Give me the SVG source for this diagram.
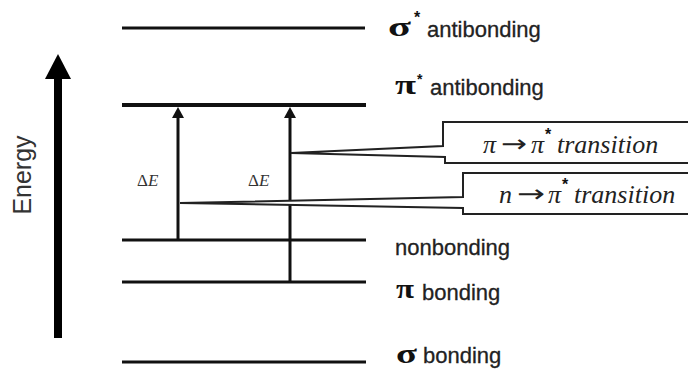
<svg xmlns="http://www.w3.org/2000/svg" width="688" height="369" viewBox="0 0 688 369">
<style>
.lvl{stroke:#111;stroke-width:3;fill:none}
.lbl{font-family:"Liberation Sans",Arial,sans-serif;font-size:22px;fill:#222;stroke:#222;stroke-width:0.3}
.sym{font-family:"Liberation Serif","Times New Roman",serif;font-size:28px;font-weight:bold;fill:#111}
.star{font-family:"Liberation Sans",Arial,sans-serif;font-size:16px;font-weight:bold;fill:#111}
.box{stroke:#222;stroke-width:2;fill:#fff}
.it{font-family:"Liberation Serif","Times New Roman",serif;font-style:italic;font-size:26px;fill:#222}
.arr{font-family:"DejaVu Sans",sans-serif;font-size:24px;fill:#222}
.de{font-family:"Liberation Serif","Times New Roman",serif;font-size:17px;fill:#333}
.tr{stroke:#111;stroke-width:3;fill:none}
</style>
<g id="energy-axis">
<rect x="54" y="74" width="8" height="264" fill="#000"/>
<polygon points="58,54 45,79 71,79" fill="#000"/>
<text transform="translate(31,175) rotate(-90)" text-anchor="middle" class="lbl" style="font-size:25px;stroke-width:0;fill:#333">Energy</text>
</g>
<g id="sigma-star">
<line class="lvl" x1="122" y1="28" x2="365" y2="28"/>
<text x="388" y="36" class="sym" textLength="23" lengthAdjust="spacingAndGlyphs">σ</text>
<text x="414" y="23" class="star">*</text>
<text x="427" y="37" class="lbl">antibonding</text>
</g>
<g id="pi-star">
<line class="lvl" x1="122" y1="105" x2="366" y2="105" style="stroke-width:4"/>
<text x="395" y="94" class="sym" textLength="21" lengthAdjust="spacingAndGlyphs">π</text>
<text x="417" y="84" class="star" style="font-size:14px">*</text>
<text x="430" y="95" class="lbl">antibonding</text>
</g>
<g id="nonbonding">
<line class="lvl" x1="122" y1="240" x2="366" y2="240"/>
<text x="395" y="255" class="lbl">nonbonding</text>
</g>
<g id="pi-bonding">
<line class="lvl" x1="122" y1="282" x2="366" y2="282"/>
<text x="396" y="298" class="sym" textLength="18" lengthAdjust="spacingAndGlyphs">π</text>
<text x="422" y="300" class="lbl">bonding</text>
</g>
<g id="sigma-bonding">
<line class="lvl" x1="122" y1="362" x2="366" y2="362"/>
<text x="396" y="363" class="sym" textLength="21" lengthAdjust="spacingAndGlyphs">σ</text>
<text x="423" y="363" class="lbl">bonding</text>
</g>
<g id="connectors">
<line class="tr" x1="178" y1="240" x2="178" y2="116"/>
<polygon points="178,107 172,118 184,118" fill="#111"/>
<line class="tr" x1="290" y1="282" x2="290" y2="116"/>
<polygon points="290,107 284,118 296,118" fill="#111"/>
<text x="137" y="186" class="de">Δ<tspan font-style="italic">E</tspan></text>
<text x="248" y="186" class="de">Δ<tspan font-style="italic">E</tspan></text>
</g>
<g id="pi-pi-transition">
<path class="box" d="M 692,122 H 443 V 146 L 291,153 L 445,157 V 163 H 692"/>
<text x="483" y="153" class="it">π</text>
<text x="501" y="152" class="arr" textLength="26" lengthAdjust="spacingAndGlyphs">→</text>
<text x="531" y="153" class="it">π</text>
<text x="545" y="140" class="star">*</text>
<text x="557" y="153" class="it">transition</text>
</g>
<g id="n-pi-transition">
<path class="box" d="M 692,173 H 463 V 197 L 180,203 L 463,208 V 214 H 692"/>
<text x="499" y="203" class="it">n</text>
<text x="517" y="202" class="arr" textLength="28" lengthAdjust="spacingAndGlyphs">→</text>
<text x="548" y="203" class="it">π</text>
<text x="562" y="190" class="star">*</text>
<text x="574" y="203" class="it">transition</text>
</g>
</svg>
